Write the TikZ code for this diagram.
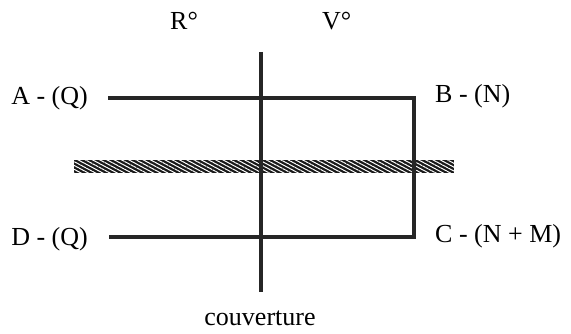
\documentclass[tikz,border=0pt]{standalone}
\usepackage{fontspec}
\setmainfont{Liberation Serif}
\usetikzlibrary{patterns.meta}
\begin{document}
\begin{tikzpicture}[x=1pt,y=-1pt,
  lbl/.style={font=\fontsize{26}{30}\selectfont, inner sep=0pt},
  wire/.style={line width=3.4pt, black!85, line join=miter}]
\useasboundingbox (0,0) rectangle (571,334);
% hatched band
\fill[black!90] (74,160) rectangle (454,173);
\fill[pattern={Lines[angle=-28,distance=3.4pt,line width=1pt]}, pattern color=white] (74,160) rectangle (454,173);
% coordinates
\coordinate (tl) at (108,98);
\coordinate (tr) at (414,98);
\coordinate (br) at (414,237);
\coordinate (bl) at (109,237);
\coordinate (vt) at (261,52);
\coordinate (vb) at (261,292);
\draw[wire] (tl) -- (tr) -- (br) -- (bl);
\draw[wire] (vt) -- (vb);
% labels
\node[lbl, anchor=base east] (A) at (88,105) {A - (Q)};
\node[lbl, anchor=base west] (B) at (435,103) {B - (N)};
\node[lbl, anchor=base east] (D) at (88,246) {D - (Q)};
\node[lbl, anchor=base west] (C) at (435,243) {C - (N + M)};
\node[lbl, anchor=base west] (R) at (170,30) {R°};
\node[lbl, anchor=base west] (V) at (322,30) {V°};
\node[lbl, anchor=base] (cov) at (260,325) {couverture};
\end{tikzpicture}
\end{document}
